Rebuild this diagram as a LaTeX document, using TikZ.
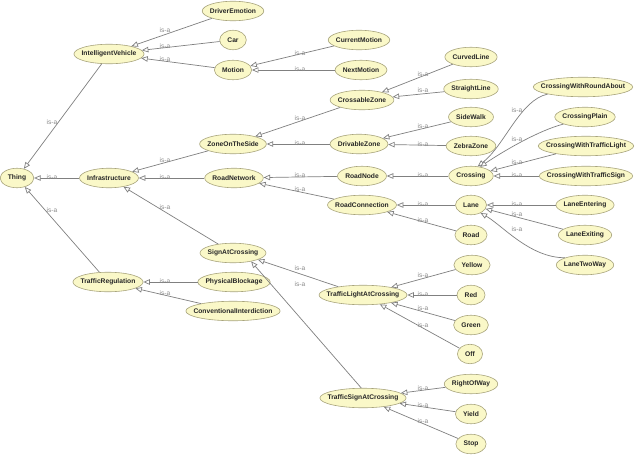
\documentclass[tikz,border=0pt]{standalone}
\usepackage{fontspec}
\newfontfamily\nf{Liberation Sans}
\usetikzlibrary{arrows.meta,shapes.geometric,calc}
\definecolor{nodefill}{HTML}{FAF8C8}
\definecolor{nodedraw}{HTML}{A8A47C}
\definecolor{edgegray}{HTML}{808080}
\definecolor{lblgray}{HTML}{8C8C8C}
\definecolor{txtcol}{HTML}{262626}
\newcommand\owcls[3]{%
  \node[measure] (#1m) at (#2) {#3};
  \path let \p1=(#1m.east), \p2=(#1m.west) in
    node[cls, minimum width={\x1-\x2+15pt}] (#1) at (#2) {\makebox[0pt]{#3}};}
\newcommand\owisa[4]{%
  \draw[isaedge] (#1) -- (#2);
  \node[lbl] (L#1) at (#3,#4) {is-a};}
\tikzset{
  clsfont/.style={font=\nf\bfseries\fontsize{6.7}{8}\selectfont},
  measure/.style={clsfont, inner sep=0pt, opacity=0},
  cls/.style={ellipse, draw=nodedraw, fill=nodefill, line width=0.6pt,
    inner sep=0pt, minimum height=19.5pt, text=txtcol, clsfont},
  isaedge/.style={draw=edgegray, line width=0.7pt,
    -{Triangle[length=6.5pt,width=5.5pt,fill=white]}},
  lbl/.style={font=\nf\fontsize{6.6}{7.5}\selectfont, text=lblgray, inner sep=0pt}
}
\begin{document}
\begin{tikzpicture}[x=1pt,y=-1pt]
\fill[white] (0,0) rectangle (640,455);
\useasboundingbox (0,0) rectangle (640,455);
% column 0/1
\owcls{Thing}{17,178}{Thing}
\owcls{IV}{109,54}{IntelligentVehicle}
\owcls{Infra}{109,178}{Infrastructure}
\owcls{TR}{108,282}{TrafficRegulation}
% column 2
\owcls{DE}{233,11}{DriverEmotion}
\owcls{Car}{233,40}{Car}
\owcls{Motion}{233,70}{Motion}
\owcls{ZOTS}{233,144}{ZoneOnTheSide}
\owcls{RN}{234,178}{RoadNetwork}
\owcls{SAC}{233,253}{SignAtCrossing}
\owcls{PB}{234,282}{PhysicalBlockage}
\owcls{CI}{233,311}{ConventionalInterdiction}
% column 3
\owcls{CM}{359,40}{CurrentMotion}
\owcls{NM}{361,70}{NextMotion}
\owcls{CZ}{362,100}{CrossableZone}
\owcls{DZ}{359,144}{DrivableZone}
\owcls{RNode}{362,176}{RoadNode}
\owcls{RC}{362,205}{RoadConnection}
\owcls{TLAC}{363,295}{TrafficLightAtCrossing}
\owcls{TSAC}{363,398}{TrafficSignAtCrossing}
% column 4
\owcls{CL}{471,57}{CurvedLine}
\owcls{SL}{471,89}{StraightLine}
\owcls{SW}{471,117}{SideWalk}
\owcls{ZZ}{471,146}{ZebraZone}
\owcls{Crossing}{471,176}{Crossing}
\owcls{Lane}{471,205}{Lane}
\owcls{Road}{471,235}{Road}
\owcls{Yellow}{472,265}{Yellow}
\owcls{Red}{471,295}{Red}
\owcls{Green}{471,325}{Green}
\owcls{Off}{470,354}{Off}
\owcls{ROW}{471,384}{RightOfWay}
\owcls{Yield}{471,414}{Yield}
\owcls{Stop}{471,444}{Stop}
% column 5
\owcls{CWRA}{583,87}{CrossingWithRoundAbout}
\owcls{CP}{585,117}{CrossingPlain}
\owcls{CWTL}{586,146}{CrossingWithTrafficLight}
\owcls{CWTS}{586,176}{CrossingWithTrafficSign}
\owcls{LEn}{585,205}{LaneEntering}
\owcls{LEx}{585,235}{LaneExiting}
\owcls{LTW}{585,265}{LaneTwoWay}
% edges level 0-1
\owisa{IV}{Thing}{52}{122}
\owisa{Infra}{Thing}{52}{177}
\owisa{TR}{Thing}{52}{210}
% level 1-2
\owisa{DE}{IV}{165}{30}
\owisa{Car}{IV}{165}{46}
\owisa{Motion}{IV}{165}{59}
\owisa{ZOTS}{Infra}{165}{160}
\owisa{RN}{Infra}{165}{177}
\owisa{SAC}{Infra}{165}{207}
\owisa{PB}{TR}{165}{281}
\owisa{CI}{TR}{165}{293}
% level 2-3
\owisa{CM}{Motion}{300}{53}
\owisa{NM}{Motion}{300}{69}
\owisa{CZ}{ZOTS}{300}{118}
\owisa{DZ}{ZOTS}{300}{143}
\owisa{RNode}{RN}{300}{175}
\owisa{RC}{RN}{300}{189}
\draw[isaedge] (TLAC) -- (SAC.-15);
\node[lbl] (LTLAC) at (300,268) {is-a};
\draw[isaedge] (TSAC.100) -- (SAC.-25);
\node[lbl] (LTSAC) at (300,284) {is-a};
% level 3-4
\owisa{CL}{CZ}{423}{74}
\owisa{SL}{CZ}{423}{90}
\owisa{SW}{DZ}{423}{126}
\owisa{ZZ}{DZ}{423}{144}
\owisa{Crossing}{RNode}{423}{175}
\owisa{Lane}{RC}{423}{204}
\owisa{Road}{RC}{423}{220}
\owisa{Yellow}{TLAC}{423}{275}
\owisa{Red}{TLAC}{423}{294}
\owisa{Green}{TLAC}{423}{308}
\owisa{Off}{TLAC}{423}{325}
\owisa{ROW}{TSAC}{423}{388}
\owisa{Yield}{TSAC}{423}{405}
\owisa{Stop}{TSAC}{423}{421}
% level 4-5
\draw[isaedge] (CWRA.south west) .. controls (520,100) and (505,145) .. (Crossing.55);
\node[lbl] (LCWRA) at (517,110) {is-a};
\draw[isaedge] (CP.south west) .. controls (540,130) and (505,150) .. (Crossing.45);
\node[lbl] (LCP) at (517,139) {is-a};
\owisa{CWTL}{Crossing}{517}{162}
\owisa{CWTS}{Crossing}{517}{175}
\owisa{LEn}{Lane}{517}{204}
\owisa{LEx}{Lane}{517}{214}
\draw[isaedge] (LTW.160) .. controls (530,258) and (502,225) .. (Lane.-40);
\node[lbl] (LLTW) at (517,229) {is-a};
\end{tikzpicture}
\end{document}
